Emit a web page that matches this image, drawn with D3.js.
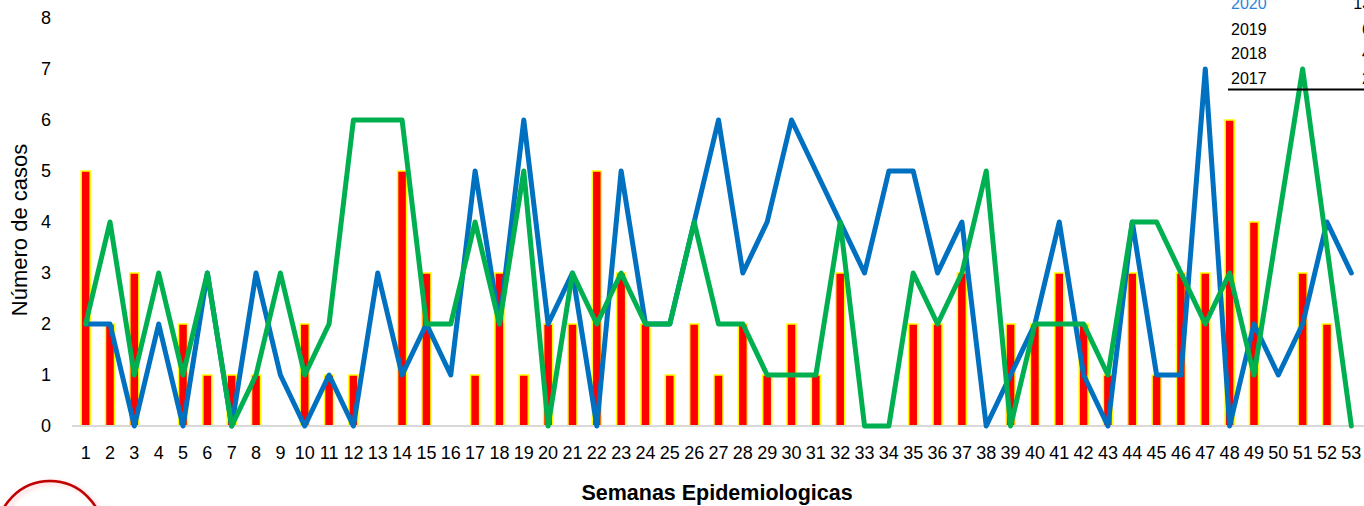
<!DOCTYPE html>
<html>
<head>
<meta charset="utf-8">
<script src="https://cdn.jsdelivr.net/npm/d3@7"></script>
<style>
  html, body { margin: 0; padding: 0; background: #fff; }
  svg { display: block; }
  text { font-family: "Liberation Sans", Arial, sans-serif; fill: #000; }
</style>
</head>
<body>
<svg id="chart" width="1364" height="506"></svg>
<script>
const weeks = d3.range(1, 54).map(String);
const cases2020 = [5,2,3,0,2,1,1,1,0,2,1,1,0,5,3,0,1,3,1,2,2,5,3,2,1,2,1,2,1,2,1,3,0,0,2,2,3,0,2,2,3,2,1,3,1,3,3,6,4,0,3,2,0];
const cases2019 = [2,2,0,2,0,3,0,3,1,0,1,0,3,1,2,1,5,2,6,2,3,0,5,2,2,4,6,3,4,6,5,4,3,5,5,3,4,0,1,2,4,1,0,4,1,1,7,0,2,1,2,4,3];
const cases2018 = [2,4,1,3,1,3,0,1,3,1,2,6,6,6,2,2,4,2,5,0,3,2,3,2,2,4,2,2,1,1,1,4,0,0,3,2,3,5,0,2,2,2,1,4,4,3,2,3,1,4,7,3.5,0];
const yTicks = [0,1,2,3,4,5,6,7,8];
const legendYears = ["2020","2019","2018","2017"];
const legendTotals = ["13","6","4","2"];

const svg = d3.select("#chart");
const x = d3.scaleBand().domain(weeks).range([73.5, 1363.5]).padding(0);
const y = d3.scaleLinear().domain([0, 8]).range([426, 18]);

// bars
const barW = 9;
svg.append("g").selectAll("rect").data(cases2020.map((v,i)=>({w:weeks[i], v})).filter(d=>d.v>0))
  .join("rect")
  .attr("x", d => x(d.w) + x.bandwidth()/2 - barW/2)
  .attr("y", d => y(d.v))
  .attr("width", barW)
  .attr("height", d => y(0) - y(d.v))
  .attr("fill", "#FF0000")
  .attr("stroke", "#FFFF00")
  .attr("stroke-width", 1.5);

// axis line
svg.append("line").attr("x1", 72).attr("x2", 1364).attr("y1", y(0)).attr("y2", y(0))
  .attr("stroke", "#D9D9D9").attr("stroke-width", 2);

// lines
const line = d3.line().x((d,i) => x(weeks[i]) + x.bandwidth()/2).y(d => y(d));
svg.append("path").datum(cases2019).attr("d", line).attr("fill","none")
  .attr("stroke","#0070C0").attr("stroke-width",5).attr("stroke-linejoin","round").attr("stroke-linecap","round");
svg.append("path").datum(cases2018).attr("d", line).attr("fill","none")
  .attr("stroke","#00B050").attr("stroke-width",5).attr("stroke-linejoin","round").attr("stroke-linecap","round");

// y axis labels
const yAxis = d3.axisLeft(y).tickValues(yTicks).tickSize(0).tickPadding(0).tickFormat(d3.format("d"));
const ya = svg.append("g").attr("transform","translate(51,0)").call(yAxis);
ya.select(".domain").remove();
ya.selectAll("text").attr("font-size", 18).attr("font-family", "Liberation Sans, Arial, sans-serif").attr("fill","#000");

// x axis labels
const xAxis = d3.axisBottom(x).tickSize(0).tickPadding(0);
const xa = svg.append("g").attr("transform","translate(0,446)").call(xAxis);
xa.select(".domain").remove();
xa.selectAll("text").attr("font-size", 18).attr("font-family", "Liberation Sans, Arial, sans-serif").attr("fill","#000");

// axis titles
svg.append("text").attr("transform","translate(27,230) rotate(-90)").attr("text-anchor","middle")
  .attr("font-size", 22).text("Número de casos");
svg.append("text").attr("x", 717).attr("y", 500).attr("text-anchor","middle")
  .attr("font-size", 21.5).attr("font-weight","bold").text("Semanas Epidemiologicas");

// legend table
const lg = svg.append("g");
const rowY = [9, 34.5, 59, 83.5];
legendYears.forEach((t,i) => {
  lg.append("text").attr("x", 1231).attr("y", rowY[i]).attr("font-size", 16)
    .style("fill", i === 0 ? "#2E86D6" : "#000").text(t);
  lg.append("text").attr("x", 1371).attr("y", rowY[i]).attr("font-size", 16).attr("text-anchor","end")
    .style("fill", "#000").text(legendTotals[i]);
});
lg.append("line").attr("x1",1228).attr("x2",1364).attr("y1",89.5).attr("y2",89.5).attr("stroke","#000").attr("stroke-width",2);

// circle bottom-left
const defs = svg.append("defs");
const f = defs.append("filter").attr("id","glow").attr("x","-20%").attr("y","-20%").attr("width","140%").attr("height","140%");
f.append("feGaussianBlur").attr("in","SourceGraphic").attr("stdDeviation",2.5).attr("result","b");
f.append("feOffset").attr("in","b").attr("dx",3).attr("dy",2).attr("result","o");
const m = f.append("feMerge");
m.append("feMergeNode").attr("in","o");
m.append("feMergeNode").attr("in","SourceGraphic");
svg.append("circle").attr("cx", 50).attr("cy", 534).attr("r", 53)
  .attr("fill","none").attr("stroke","#FFB3B3").attr("stroke-width",3).attr("filter","url(#glow)").attr("opacity",0.6);
svg.append("circle").attr("cx", 50).attr("cy", 534).attr("r", 53)
  .attr("fill","none").attr("stroke","#C00000").attr("stroke-width",2.5);
</script>
</body>
</html>
